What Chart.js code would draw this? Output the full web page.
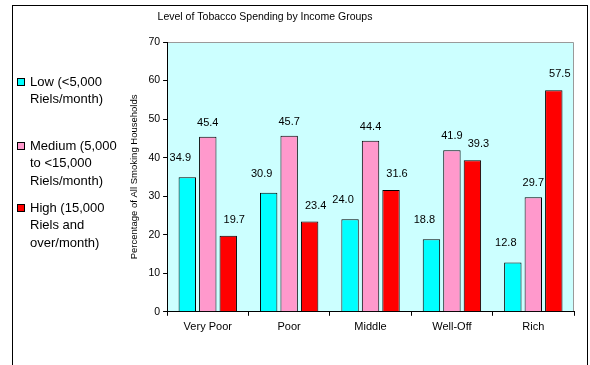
<!DOCTYPE html>
<html>
<head>
<meta charset="utf-8">
<script src="https://cdn.jsdelivr.net/npm/chart.js@4.4.1/dist/chart.umd.min.js"></script>
<style>
  html, body { margin: 0; padding: 0; background: #fff; }
</style>
</head>
<body>
<canvas id="myChart" width="590" height="365"></canvas>
<script>
// spending groups and their shares (% of smoking households)
var groups = ['Very Poor', 'Poor', 'Middle', 'Well-Off', 'Rich'];
var low_values = [34.9, 30.9, 24.0, 18.8, 12.8];
var medium_values = [45.4, 45.7, 44.4, 41.9, 29.7];
var high_values = [19.7, 23.4, 31.6, 39.3, 57.5];

var low_label = ['Low (<5,000', 'Riels/month)'];
var medium_label = ['Medium (5,000', 'to <15,000', 'Riels/month)'];
var high_label = ['High (15,000', 'Riels and', 'over/month)'];

var chart_title = 'Level of Tobacco Spending by Income Groups';
var y_title = 'Percentage of All Smoking Households';
var y_ticks = [0, 10, 20, 30, 40, 50, 60, 70];

var font_name = 'Arial, "Liberation Sans", sans-serif';

// white page, outer frame, cyan plot area, chart title
var backdrop = {
  id: 'backdrop',
  beforeDraw: function(chart) {
    var ctx = chart.ctx;
    var a = chart.chartArea;
    ctx.save();
    ctx.fillStyle = '#fff';
    ctx.fillRect(0, 0, chart.width, chart.height);
    ctx.strokeStyle = '#000';
    ctx.lineWidth = 1;
    ctx.strokeRect(12.5, 5.5, 575, 400);
    ctx.fillStyle = '#ccffff';
    ctx.fillRect(a.left, a.top, a.right - a.left, a.bottom - a.top);
    ctx.strokeStyle = '#9a9a9a';
    ctx.beginPath();
    ctx.moveTo(a.left, a.top + 0.5);
    ctx.lineTo(a.right - 0.5, a.top + 0.5);
    ctx.lineTo(a.right - 0.5, a.bottom);
    ctx.stroke();
    ctx.fillStyle = '#000';
    ctx.font = '10.5px ' + font_name;
    ctx.textAlign = 'center';
    ctx.textBaseline = 'middle';
    ctx.fillText(chart_title, 265, 17);
    ctx.restore();
  }
};

// value printed above every bar
var barValues = {
  id: 'barValues',
  afterDatasetsDraw: function(chart) {
    var ctx = chart.ctx;
    var shift_x = [-7, 0, 6];
    var gap_y = [19, 14, 16];
    ctx.save();
    ctx.fillStyle = '#000';
    ctx.font = '11px ' + font_name;
    ctx.textAlign = 'center';
    ctx.textBaseline = 'middle';
    chart.data.datasets.forEach(function(ds, i) {
      var meta = chart.getDatasetMeta(i);
      meta.data.forEach(function(bar, j) {
        ctx.fillText(ds.data[j].toFixed(1), bar.x + shift_x[i], bar.y - gap_y[i]);
      });
    });
    ctx.restore();
  }
};

// legend at the left with wrapped names
var sideLegend = {
  id: 'sideLegend',
  afterDraw: function(chart) {
    var ctx = chart.ctx;
    var tops = [82, 146, 208];
    ctx.save();
    ctx.font = '13px ' + font_name;
    ctx.textAlign = 'left';
    ctx.textBaseline = 'middle';
    chart.data.datasets.forEach(function(ds, i) {
      var y = tops[i];
      ctx.fillStyle = ds.backgroundColor;
      ctx.fillRect(17, y - 4, 8, 8);
      ctx.strokeStyle = '#000';
      ctx.lineWidth = 1;
      ctx.strokeRect(17.5, y - 3.5, 7, 7);
      ctx.fillStyle = '#000';
      ds.label.forEach(function(line, k) {
        ctx.fillText(line, 30, y + k * 17.5);
      });
    });
    ctx.restore();
  }
};

var ctx = document.getElementById('myChart').getContext('2d');
var myChart = new Chart(ctx, {
  type: 'bar',
  data: {
    labels: groups,
    datasets: [{
      label: low_label,
      data: low_values,
      backgroundColor: '#00ffff',
      borderColor: '#000',
      borderWidth: 1
    }, {
      label: medium_label,
      data: medium_values,
      backgroundColor: '#ff99cc',
      borderColor: '#000',
      borderWidth: 1
    }, {
      label: high_label,
      data: high_values,
      backgroundColor: '#ff0000',
      borderColor: '#000',
      borderWidth: 1
    }]
  },
  options: {
    responsive: false,
    animation: false,
    layout: { padding: { left: 122, top: 42, right: 16, bottom: 26 } },
    datasets: {
      bar: { categoryPercentage: 0.755, barPercentage: 0.85 }
    },
    plugins: {
      legend: { display: false },
      tooltip: { enabled: false }
    },
    scales: {
      x: {
        border: { color: '#000', width: 1 },
        grid: { drawOnChartArea: false, color: '#000', tickLength: 4 },
        ticks: { color: '#000', padding: 5, font: { family: font_name, size: 11 } }
      },
      y: {
        min: 0,
        max: 70,
        afterBuildTicks: function(axis) {
          axis.ticks = y_ticks.map(function(v) { return { value: v }; });
        },
        border: { color: '#000', width: 1 },
        grid: { drawOnChartArea: false, color: '#000', tickLength: 4 },
        ticks: { color: '#000', padding: 3, font: { family: font_name, size: 10.5 } },
        title: {
          display: true,
          text: y_title,
          color: '#000',
          padding: { top: 7, bottom: 5 },
          font: { family: font_name, size: 9.5 }
        }
      }
    }
  },
  plugins: [backdrop, barValues, sideLegend]
});
</script>
</body>
</html>
